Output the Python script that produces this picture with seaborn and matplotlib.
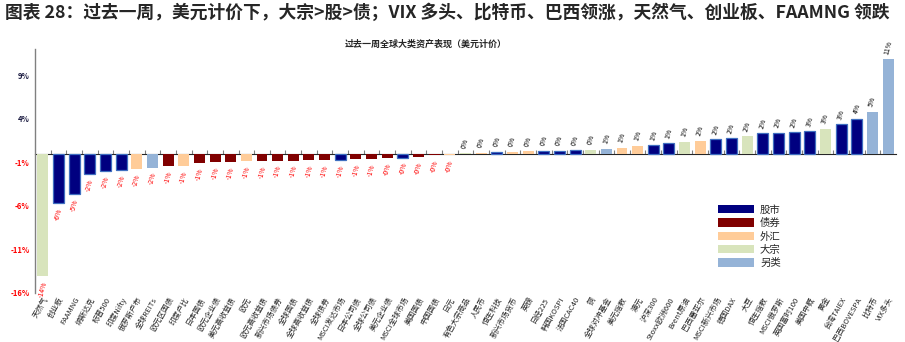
import matplotlib
matplotlib.use("Agg")
import matplotlib.pyplot as plt
import seaborn as sns
import pandas as pd
from matplotlib.patches import Patch

sns.set_style("white")
plt.rcParams['font.family'] = ['Noto Sans CJK SC', 'DejaVu Sans']
plt.rcParams['axes.unicode_minus'] = False

names = ["天然气", "创业板", "FAAMNG", "纳斯达克", "标普500", "印度Nifty", "俄罗斯卢布", "全球REITs",
         "欧元区国债", "印度卢比", "日本国债", "欧元企业债", "美元高收益债", "欧元", "欧元高收益债",
         "新兴市场债券", "全球国债", "全球高收益债", "全球债券", "MSCI发达市场", "日本公司债", "全球公司债",
         "美元企业债", "MSCI全球市场", "美国国债", "中国国债", "日元", "有色大宗商品", "人民币", "恒生科技",
         "新兴市场货币", "英镑", "日经225", "韩国KOSPI", "法国CAC40", "铜", "全球对冲基金", "美元指数",
         "澳元", "沪深300", "Stoxx欧洲600", "Brent原油", "巴西雷亚尔", "MSCI新兴市场", "德国DAX", "大豆",
         "恒生指数", "MSCI俄罗斯", "英国富时100", "美国中概", "黄金", "台湾TAIEX", "巴西BOVESPA", "比特币",
         "VIX多头"]
values = [-14.1, -5.7, -4.6, -2.3, -2.0, -1.85, -1.8, -1.6, -1.45, -1.4, -1.05, -1.0, -1.0, -0.9,
          -0.86, -0.8, -0.8, -0.74, -0.74, -0.7, -0.62, -0.58, -0.5, -0.46, -0.38, -0.19, -0.15,
          0.02, 0.12, 0.2, 0.21, 0.27, 0.35, 0.35, 0.36, 0.43, 0.54, 0.62, 0.92, 0.93, 1.16, 1.31,
          1.5, 1.63, 1.74, 1.98, 2.33, 2.34, 2.44, 2.56, 2.87, 3.37, 3.95, 4.8, 10.8]
cats = ["大宗", "股市", "股市", "股市", "股市", "股市", "外汇", "另类", "债券", "外汇", "债券", "债券",
        "债券", "外汇", "债券", "债券", "债券", "债券", "债券", "股市", "债券", "债券", "债券", "股市",
        "债券", "债券", "外汇", "大宗", "外汇", "股市", "外汇", "外汇", "股市", "股市", "股市", "大宗",
        "另类", "外汇", "外汇", "股市", "股市", "大宗", "外汇", "股市", "股市", "大宗", "股市", "股市",
        "股市", "股市", "大宗", "股市", "股市", "另类", "另类"]
cat_order = ["股市", "债券", "外汇", "大宗", "另类"]
palette = {"股市": "#000080", "债券": "#800000", "外汇": "#FFCC99", "大宗": "#D8E4BC", "另类": "#95B3D7"}
yticks = [-16, -11, -6, -1, 4, 9]

df = pd.DataFrame({"name": names, "value": values, "cat": cats})

fig = plt.figure(figsize=(9.05, 3.42), dpi=100)
ax = fig.add_axes([0.0387, 0.1433, 0.9513, 0.7134])

sns.barplot(data=df, x="name", y="value", hue="cat", hue_order=cat_order, palette=palette,
            dodge=False, width=0.7, legend=False, ax=ax, saturation=1)

for p in ax.patches:
    fc = p.get_facecolor()
    if abs(fc[0] - 0) < 0.01 and abs(fc[2] - 0.5) < 0.02:
        p.set_edgecolor("#3F6FC0")
        p.set_linewidth(0.9)
    else:
        p.set_linewidth(0)

ymin, ymax = -16, 12
ax.set_ylim(ymin, ymax)
ax.set_xlim(-0.5, len(names) - 0.5)

# value labels
for i, v in enumerate(values):
    txt = f"{v:.0f}%"
    if v < 0:
        ax.annotate(txt, (i, v), xytext=(0, -3), textcoords="offset points", rotation=75,
                    ha="center", va="top", fontsize=5, color="#FF0000")
    else:
        ax.annotate(txt, (i, v), xytext=(0, 3), textcoords="offset points", rotation=75,
                    ha="center", va="bottom", fontsize=5, color="#000000")

# y axis
ax.set_yticks(yticks)
ax.set_yticklabels([f"{t}%" for t in yticks], fontsize=5.5, fontweight="bold")
for lab, t in zip(ax.get_yticklabels(), yticks):
    lab.set_color("#FF0000" if t < 0 else "#1a1a40")
ax.tick_params(axis="y", direction="out", length=3, width=0.8, color="#808080", pad=1)

# x axis labels at bottom, no ticks
ax.set_xticks(range(len(names)))
ax.set_xticklabels(names, rotation=60, ha="right", rotation_mode="anchor", fontsize=5.5)
ax.tick_params(axis="x", length=0, pad=2)
ax.set_xlabel("")
ax.set_ylabel("")

for s in ["top", "right", "bottom"]:
    ax.spines[s].set_visible(False)
ax.spines["left"].set_color("#808080")
ax.spines["left"].set_linewidth(1.0)

# zero line with tick marks between bars
zero_frac = (0 - ymin) / (ymax - ymin)
sec = ax.secondary_xaxis(zero_frac)
sec.set_xticks([i + 0.5 for i in range(len(names) - 1)])
sec.set_xticklabels([])
sec.tick_params(direction="out", length=3, width=0.8, color="#808080")
sec.spines["bottom"].set_color("#808080")
sec.spines["bottom"].set_linewidth(1.2)

# legend
handles = [Patch(facecolor=palette[c], edgecolor="none", label=c) for c in cat_order]
ax.legend(handles=handles, loc="upper left", bbox_to_anchor=(0.787, 0.383), frameon=False,
          fontsize=7.5, handlelength=3.5, handleheight=0.85, labelspacing=0.32, handletextpad=0.55,
          borderpad=0)

fig.text(0.006, 0.962, "图表 28：过去一周，美元计价下，大宗>股>债；VIX 多头、比特币、巴西领涨，天然气、创业板、FAAMNG 领跌",
         fontsize=12.8, fontweight="bold", va="center", ha="left")
fig.text(0.47, 0.872, "过去一周全球大类资产表现（美元计价）", fontsize=6.5, fontweight="bold",
         ha="center", va="center")

fig.savefig("out.png", dpi=100)
